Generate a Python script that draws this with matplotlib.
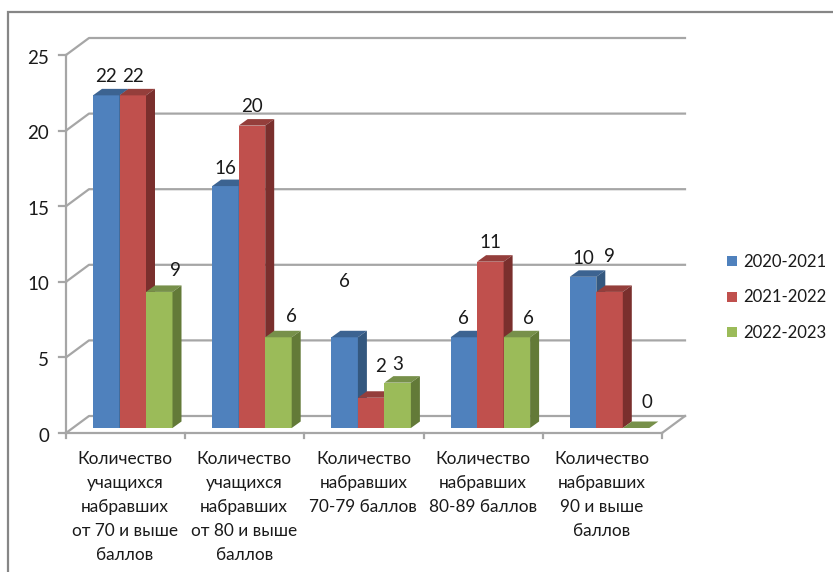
import numpy as np
import matplotlib
matplotlib.use("Agg")
import matplotlib.pyplot as plt
from matplotlib.patches import Polygon, Rectangle

categories = ["Количество\nучащихся\nнабравших\nот 70 и выше\nбаллов",
              "Количество\nучащихся\nнабравших\nот 80 и выше\nбаллов",
              "Количество\nнабравших\n70-79 баллов",
              "Количество\nнабравших\n80-89 баллов",
              "Количество\nнабравших\n90 и выше\nбаллов"]
seasons = ["2020-2021", "2021-2022", "2022-2023"]
v2021 = [22, 16, 6, 6, 10]
v2122 = [22, 20, 2, 11, 9]
v2223 = [9, 6, 3, 6, 0]
yticks = [0, 5, 10, 15, 20, 25]

front = ["#4f81bd", "#c0504d", "#9bbb59"]
top = ["#3c6391", "#943e3b", "#77904a"]
side = ["#34587f", "#7a2f2d", "#637a38"]
grid = "#a6a6a6"
txt = "#1a1a1a"

plt.rcParams["font.family"] = ["Lato", "DejaVu Sans"]

W, H = 833, 572
fig = plt.figure(figsize=(W / 100, H / 100), dpi=100)
ax = fig.add_axes([0, 0, 1, 1])
# one unit in x = one category, one unit in y = one value, pixel sizes below
ux = 119.2
uy = 15.12
ax.set_xlim(-66 / ux, (W - 66) / ux)
ax.set_ylim(-(H - 433) / uy, 433 / uy)
ax.axis("off")

dx = 23 / ux      # depth of the wall
dy = 17 / uy
n = len(categories)

# outer frame
ax.add_patch(Rectangle((-58 / ux, -(H - 433) / uy - 1), (W + 40) / ux, (H - 12) / uy + 1,
                       fill=False, ec="#868686", lw=1.6, clip_on=True))

# gridlines on the back wall and the left wall
for t in yticks:
    ax.plot([0, dx, n + dx], [t, t + dy, t + dy], color=grid, lw=1.6, zorder=1)
    ax.plot([-7 / ux, 0], [t, t], color=grid, lw=1.6, zorder=1)
    ax.text(-17 / ux, t - 3 / uy, str(t), ha="right", va="center", fontsize=13.5, color=txt)
ax.plot([0, 0], [0, yticks[-1]], color=grid, lw=1.6, zorder=1)
ax.plot([0, n], [0, 0], color=grid, lw=1.6, zorder=1)
ax.plot([n, n + dx], [0, dy], color=grid, lw=1.6, zorder=1)
for i in range(n + 1):
    ax.plot([i, i], [0, -5 / uy], color=grid, lw=1.6, zorder=1)

# 3d look bars
bw = 26.5 / ux
start = 27 / ux
bdx = 9 / ux
bdy = 6.5 / uy
base = 5 / uy
series = [v2021, v2122, v2223]
# label nudges in pixels, the labels were moved by hand in the original
nudge_x = [[0, 0, 0, 0, 0], [0, 0, 9, 0, 0], [16, 13, 0, 12, 11]]
nudge_y = [[19, 18, 56, 19, 18], [19, 19, 31, 19, 35], [21, 21, 18, 19, 25]]
for s, vals in enumerate(series):
    for i, v in enumerate(vals):
        x0 = i + start + s * bw
        y1 = base + v
        ax.add_patch(Rectangle((x0, base), bw, v, fc=front[s], ec="none", zorder=3 + i + s * 0.1))
        ax.add_patch(Polygon([(x0, y1), (x0 + bdx, y1 + bdy), (x0 + bw + bdx, y1 + bdy), (x0 + bw, y1)],
                             fc=top[s], ec="none", zorder=3 + i + s * 0.1))
        ax.add_patch(Polygon([(x0 + bw, base), (x0 + bw + bdx, base + bdy), (x0 + bw + bdx, y1 + bdy), (x0 + bw, y1)],
                             fc=side[s], ec="none", zorder=3 + i + s * 0.1))
        ax.text(x0 + bw / 2 + nudge_x[s][i] / ux, y1 + nudge_y[s][i] / uy, str(v), ha="center", va="center",
                fontsize=13.5, color=txt, zorder=20)

# category labels
for i, c in enumerate(categories):
    ax.text(i + 0.495, -18 / uy, c, ha="center", va="top", fontsize=12.4, color=txt, linespacing=1.62)

# legend
for s, name in enumerate(seasons):
    ly = (433 - 261 - s * 35.5) / uy
    ax.add_patch(Rectangle(((727 - 66) / ux, ly - 5 / uy), 10 / ux, 10 / uy, fc=front[s], ec="none"))
    ax.text((743 - 66) / ux, ly - 1 / uy, name, ha="left", va="center", fontsize=12.1, color=txt)

fig.savefig("out.png", dpi=100)
